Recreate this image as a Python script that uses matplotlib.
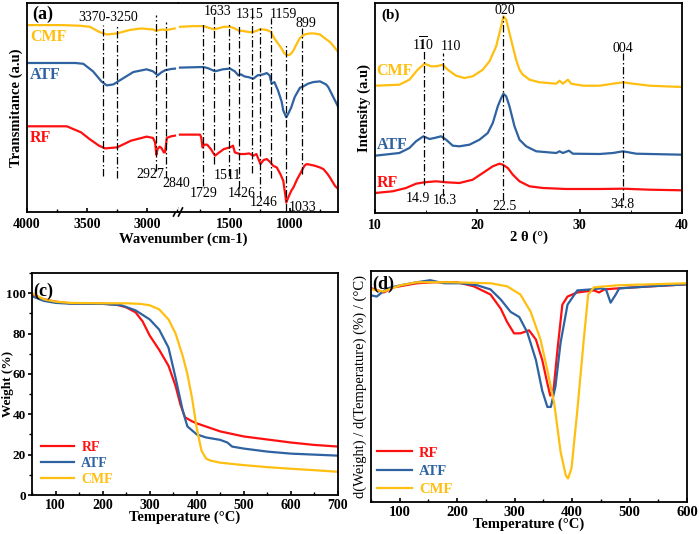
import matplotlib
matplotlib.use('Agg')
import matplotlib.pyplot as plt
from matplotlib.lines import Line2D
from matplotlib.ticker import MultipleLocator, FixedLocator, NullLocator

plt.rcParams['font.family'] = ['Liberation Serif', 'DejaVu Serif']
plt.rcParams['font.weight'] = 'bold'
plt.rcParams['axes.labelweight'] = 'bold'
plt.rcParams['mathtext.fontset'] = 'stix'
plt.rcParams['axes.linewidth'] = 1.3

C_RF = '#ff1010'
C_ATF = '#2e62a0'
C_CMF = '#ffbf10'

# ---------------- (a) FTIR ----------------
ftir_cmf_w = [4000, 3700, 3550, 3475, 3400, 3336, 3250, 3150, 3050, 2990, 2950, 2927, 2900, 2870, 2840, 2800, 2770,
              1917, 1800, 1720, 1660, 1633, 1600, 1550, 1500, 1460, 1426, 1400, 1350, 1315, 1280, 1250, 1222, 1190,
              1160, 1130, 1100, 1070, 1050, 1033, 1010, 990, 970, 950, 920, 899, 870, 833, 800, 750, 700, 667, 630, 600]
ftir_cmf_y = [186, 186, 185.3, 184.3, 179.3, 176.7, 177.7, 181, 182.7, 182, 181.7, 180.3, 181, 181.7, 181, 182, 182.7,
              184.3, 185, 185, 182.7, 181.7, 182.7, 184.3, 184.3, 182.7, 180.3, 180.3, 179.3, 178.7, 180.3, 181.7, 181.7, 181,
              179.3, 172.7, 167.7, 162.7, 158.3, 156.7, 156, 157.7, 161, 166, 172.7, 175, 177, 177.7, 177.7, 176.7, 172, 169.3, 164, 159.3]

ftir_atf_w = [4000, 3600, 3531, 3450, 3380, 3336, 3280, 3200, 3114, 3003, 2950, 2911, 2880, 2850, 2800, 2767,
              1917, 1722, 1680, 1625, 1560, 1500, 1460, 1431, 1410, 1380, 1340, 1306, 1270, 1222, 1194, 1170, 1153,
              1130, 1100, 1070, 1056, 1031, 1015, 990, 961, 930, 917, 889, 850, 806, 750, 700, 681, 639, 597]
ftir_atf_y = [148.3, 148.3, 147.5, 140, 130, 126, 127, 133, 139.3, 142, 140, 136, 139, 141, 142.3, 142.7,
              143.7, 144.3, 143, 140, 142, 142.7, 140, 136, 137, 135, 134, 132.7, 136, 137, 138.3, 136, 127.7,
              129.3, 121, 110, 101, 94.3, 97.7, 104, 114.3, 121, 123.7, 125, 127.7, 129.3, 130, 127, 124.3, 114.3, 104.3]

ftir_rf_w = [4000, 3669, 3550, 3480, 3400, 3350, 3250, 3133, 3003, 2950, 2933, 2922, 2912, 2895, 2880, 2860, 2850, 2835, 2800, 2767,
             1917, 1750, 1740, 1729, 1715, 1690, 1660, 1625, 1590, 1550, 1500, 1475, 1460, 1417, 1375, 1340, 1306, 1280,
             1246, 1220, 1194, 1170, 1140, 1110, 1080, 1056, 1040, 1031, 1015, 990, 972, 940, 917, 880, 861, 830, 792,
             750, 722, 690, 667, 625, 597]
ftir_rf_y = [85.3, 85.3, 79.3, 72.7, 66, 63.3, 64.3, 71, 75, 73.7, 69.3, 57, 62.7, 65, 63.7, 59.3, 59.3, 73.7, 75.3, 76,
             77, 77, 74.3, 64.3, 67, 67, 62.7, 56, 59.3, 62.7, 64.3, 66, 59.3, 57.7, 57.7, 58.3, 56, 57.7,
             47.7, 51.7, 52.7, 50.3, 46, 44.3, 37.7, 31, 17.7, 9.3, 14.3, 21, 24.3, 32.7, 37.7, 46, 47.7, 47, 46,
             44.3, 42.7, 38.3, 34.3, 26, 22.7]

ftir_peaks = [3370, 3250, 2927, 2840, 1729, 1633, 1511, 1426, 1315, 1246, 1159, 1033, 899]
ftir_peak_top = [186, 186, 196, 189, 189, 198, 188, 186, 196, 183, 193, 168, 183]
ftir_peak_bot = [36, 34, 41, 34, 26, 48, 36, 24, 39, 14, 34, 1, 38]
ftir_label_text = ['3370-3250', '2927', '2840', '1729', '1633', '1511', '1426', '1315', '1246', '1159', '1033', '899']
ftir_label_w = [3325, 2975, 2753, 1717, 1606, 1525, 1403, 1336, 1219, 1058, 898, 869]
ftir_label_y = [194, 37, 28, 18, 200, 36, 18, 197, 9, 197, 4, 188]

# ---------------- (b) XRD ----------------
xrd_cmf_x = [10.0, 12.38, 13.36, 14.17, 14.83, 15.48, 15.97, 16.62, 17.11, 17.92, 18.74, 19.55, 20.53, 21.19, 21.84,
             22.33, 22.55, 22.82, 23.3, 23.79, 24.12, 24.45, 25.1, 26.08, 27.71, 28.03, 28.36, 28.85, 29.17, 30.32,
             31.95, 33.25, 34.23, 35.21, 36.84, 40.0]
xrd_cmf_y = [127.3, 128.3, 133.3, 143.3, 149.3, 146.7, 146.7, 148.3, 143.3, 137.3, 135, 136.7, 143.3, 151.7, 166.7,
             186.7, 196.7, 193.3, 173.3, 153.3, 143.3, 138.3, 133.3, 130.7, 129.3, 132.3, 129.3, 133.3, 129.3, 127.3,
             127.3, 129.3, 130.7, 129.3, 127.3, 126]
xrd_atf_x = [10.0, 12.38, 13.36, 14.01, 14.73, 15.32, 15.8, 16.46, 16.95, 17.6, 18.25, 19.23, 20.21, 21.02, 21.51,
             22.0, 22.33, 22.55, 22.82, 23.14, 23.63, 24.12, 24.77, 25.75, 27.71, 28.03, 28.36, 28.95, 29.34, 31.95,
             33.25, 34.23, 35.53, 40.0]
xrd_atf_y = [57.3, 60, 65, 71.7, 76.7, 74, 75, 76.7, 73.3, 67.3, 66.7, 68.3, 73.3, 80, 90,
             106.7, 115, 119.3, 116.7, 106.7, 86.7, 73.3, 66.7, 61.7, 60, 61.7, 60, 62.3, 59.3, 59,
             60, 61.7, 59.3, 58.3]
xrd_rf_x = [10.0, 11.73, 13.03, 14.01, 14.83, 15.97, 16.95, 18.25, 19.55, 20.53, 21.51, 22.16, 22.49, 22.98, 23.47,
            24.12, 25.1, 26.4, 28.68, 31.95, 34.23, 36.84, 40.0]
xrd_rf_y = [20, 21.7, 25, 29.3, 30.7, 31.7, 30.7, 30, 33.3, 40, 46.7, 49.3, 48.3, 45, 38.3,
            31.7, 26.7, 25, 24, 24, 24.3, 23.3, 22.7]
xrd_peak_pos = [14.75, 16.6, 22.55, 34.25]
xrd_peak_top = [163, 160, 197, 160]
xrd_peak_bot = [28, 17, 13, 13]
xrd_peak_labels = ['14.9', '16.3', '22.5', '34.8']
xrd_plane_labels = ['1$\\overline{1}$0', '110', '020', '004']

# ---------------- (c) TGA ----------------
tga_t = [50, 75, 100, 130, 200, 230, 250, 270, 285, 300, 320, 340, 355, 365, 375, 390, 400, 450, 500, 550, 600, 650, 700]
tga_rf = [99, 97, 95.8, 95, 94.8, 94.3, 93, 90.5, 86, 79, 72, 64, 54, 45, 38.5, 36.5, 35.5, 31.5, 29, 27.5, 26, 24.8, 24]
tga_atf_t = [50, 75, 100, 130, 200, 240, 270, 300, 320, 340, 355, 370, 380, 400, 420, 450, 465, 475, 500, 550, 600, 650, 700]
tga_atf = [98.5, 96.2, 95.2, 94.8, 94.7, 94, 91.5, 87, 82, 73, 58, 42, 34, 30, 28.5, 27.3, 26, 24, 23, 21.5, 20.5, 20, 19.5]
tga_cmf_t = [50, 75, 100, 130, 200, 250, 280, 300, 320, 340, 355, 370, 380, 390, 400, 410, 420, 430, 450, 500, 550, 600, 650, 700]
tga_cmf = [100, 97, 95.8, 95.2, 95, 95, 94.7, 94, 92, 87, 80, 69, 60, 48, 33, 22, 18, 17, 16, 14.8, 13.8, 13, 12.3, 11.5]

# ---------------- (d) DTG ----------------
dtg_rf_t = [51.7, 72, 89.5, 130, 159, 200, 229, 258, 276, 287, 299, 310, 325, 337, 348, 357, 362, 368, 374, 383, 392,
            409, 438, 447, 456, 479, 537, 600]
dtg_rf = [209, 205, 210, 214, 215, 215, 211, 203, 189, 176, 165, 165, 168, 159, 139, 116, 104, 111, 146, 193, 201,
          205, 207, 205, 208, 209, 211, 213]
dtg_atf_t = [51.7, 60, 78, 101, 130, 153, 177, 206, 235, 258, 276, 293, 308, 322, 337, 348, 357, 363, 371, 380, 392,
             409, 433, 450, 459, 467, 476, 482, 537, 600]
dtg_atf = [202, 201, 209, 212, 215, 217, 214, 214, 212, 208, 198, 186, 181, 166, 139, 109, 93, 93, 113, 156, 193,
           207, 208, 209, 208, 195, 203, 209, 211, 213]
dtg_cmf_t = [51.7, 72, 101, 130, 188, 258, 287, 310, 328, 345, 357, 369, 380, 389, 393, 399, 409, 421, 428, 438,
             479, 537, 600]
dtg_cmf = [208, 206, 212, 215, 215, 214, 211, 203, 186, 159, 129, 96, 49, 26, 23, 33, 89, 163, 203, 210,
           212, 213, 214]

series_names = ['RF', 'ATF', 'CMF']
colors = [C_RF, C_ATF, C_CMF]

W, H = 699, 534


def rect(l, t, r, b):
    return [l / W, 1 - b / H, (r - l) / W, (b - t) / H]


fig = plt.figure(figsize=(6.99, 5.34), dpi=100)
axL = fig.add_axes(rect(27, 3, 177.5, 212))
axR = fig.add_axes(rect(177.5, 3, 338, 212))
axb = fig.add_axes(rect(375, 3, 682, 213))
axc = fig.add_axes(rect(32, 273, 338, 495))
axd = fig.add_axes(rect(371, 271, 687, 502))
axR.set_facecolor('none')
axL.set_zorder(3)

LW = 1.6
DASH = (0, (6, 2, 1.2, 2))

# ---- (a)
ftir = [(ftir_rf_w, ftir_rf_y, C_RF), (ftir_atf_w, ftir_atf_y, C_ATF), (ftir_cmf_w, ftir_cmf_y, C_CMF)]
for ws, ys, c in ftir:
    lw_ = [(w, y) for w, y in zip(ws, ys) if w > 2200]
    rw_ = [(w, y) for w, y in zip(ws, ys) if w < 2200]
    axL.plot([p[0] for p in lw_], [p[1] for p in lw_], color=c, lw=LW)
    axR.plot([p[0] for p in rw_], [p[1] for p in rw_], color=c, lw=LW)
for w, t, b in zip(ftir_peaks, ftir_peak_top, ftir_peak_bot):
    ax = axL if w > 2200 else axR
    ax.plot([w, w], [b, t], color='k', lw=0.9, ls=DASH)
for txt, w, y in zip(ftir_label_text, ftir_label_w, ftir_label_y):
    ax = axL if w > 2200 else axR
    ax.text(w, y, txt, ha='center', va='center', fontsize=10, fontweight='normal', clip_on=False, zorder=5)

axL.set_xlim(4000, 2746)
axR.set_xlim(1937.5, 600)
for ax in (axL, axR):
    ax.set_ylim(0, 208)
    ax.yaxis.set_major_locator(NullLocator())
    ax.tick_params(axis='x', direction='in', length=3, width=1.2, labelsize=10, pad=4)
    ax.tick_params(axis='x', which='minor', direction='in', length=2, width=1)
axL.xaxis.set_major_locator(FixedLocator([4000, 3500, 3000]))
axL.xaxis.set_minor_locator(FixedLocator([3750, 3250, 2750]))
axR.xaxis.set_major_locator(FixedLocator([1500, 1000]))
axR.xaxis.set_minor_locator(FixedLocator([1750, 1250, 750]))
axL.spines['right'].set_visible(False)
axR.spines['left'].set_visible(False)
axL.set_ylabel('Transmitance (a.u)', fontsize=10.5, labelpad=3)
axL.text(3960, 197, '(a)', fontsize=13, va='center', ha='left')
for name, c, y in zip(series_names, colors, [74, 136, 174]):
    axL.text(3975, y, name, color=c, fontsize=11.5, va='center', ha='left')
fig.text(183 / W, 1 - 239 / H, 'Wavenumber (cm-1)', ha='center', va='center', fontsize=10.5, fontweight='bold')
# break marks
for x0 in (173.5, 178.5):
    fig.add_artist(Line2D([x0 / W, (x0 + 4) / W], [1 - 216 / H, 1 - 208 / H], color='k', lw=1.2))

# ---- (b)
axb.plot(xrd_rf_x, xrd_rf_y, color=C_RF, lw=LW)
axb.plot(xrd_atf_x, xrd_atf_y, color=C_ATF, lw=LW)
axb.plot(xrd_cmf_x, xrd_cmf_y, color=C_CMF, lw=LW)
for x, t, b in zip(xrd_peak_pos, xrd_peak_top, xrd_peak_bot):
    axb.plot([x, x], [b, t], color='k', lw=0.9, ls=DASH)
xrd_bot_label_pos = [(14.2, 14), (16.8, 12), (22.65, 6), (34.2, 8)]
xrd_top_label_pos = [(14.67, 169), (17.4, 166), (22.65, 202), (34.2, 164)]
for txt, (x, y) in zip(xrd_peak_labels, xrd_bot_label_pos):
    axb.text(x, y, txt, ha='center', va='center', fontsize=10, fontweight='normal', clip_on=False)
for txt, (x, y) in zip(xrd_plane_labels, xrd_top_label_pos):
    axb.text(x, y, txt, ha='center', va='center', fontsize=10, fontweight='normal', clip_on=False)
for name, c, y in zip(series_names, colors, [30, 68, 142]):
    axb.text(10.15, y, name, color=c, fontsize=11.5, va='center', ha='left')
axb.text(10.6, 198, '(b)', fontsize=11, va='center', ha='left')
axb.set_xlim(10, 40)
axb.set_ylim(0, 210)
axb.yaxis.set_major_locator(NullLocator())
axb.xaxis.set_major_locator(MultipleLocator(10))
axb.xaxis.set_minor_locator(MultipleLocator(5))
axb.tick_params(axis='x', direction='in', length=3, width=1.2, labelsize=10, pad=4)
axb.tick_params(axis='x', which='minor', direction='in', length=2)
axb.set_ylabel('Intensity (a.u)', fontsize=10.5, labelpad=3)
axb.set_xlabel('2 θ (°)', fontsize=10.5, labelpad=-1)

# ---- (c)
axc.plot(tga_t, tga_rf, color=C_RF, lw=LW, label='RF')
axc.plot(tga_atf_t, tga_atf, color=C_ATF, lw=LW, label='ATF')
axc.plot(tga_cmf_t, tga_cmf, color=C_CMF, lw=LW, label='CMF')
axc.set_xlim(50, 700)
axc.set_ylim(0, 110)
axc.xaxis.set_major_locator(MultipleLocator(100))
axc.xaxis.set_minor_locator(MultipleLocator(50))
axc.yaxis.set_major_locator(MultipleLocator(20))
axc.yaxis.set_minor_locator(MultipleLocator(10))
axc.tick_params(axis='x', which='both', direction='in', labelsize=10, pad=3)
axc.tick_params(axis='y', which='both', direction='out', labelsize=9.5, pad=1.5)
axc.tick_params(which='major', length=3, width=1.2)
axc.tick_params(which='minor', length=2, width=1)
axc.set_xlabel('Temperature (°C)', fontsize=10.5, labelpad=-1)
axc.set_ylabel('Weight (%)', fontsize=9.5, va='center')
axc.yaxis.set_label_coords(-(32 - 8) / 306, 0.5)
axc.text(52, 101, '(c)', fontsize=13, va='center', ha='left')
axc.legend(loc='lower left', frameon=False, prop={'weight': 'bold', 'size': 10}, handlelength=2.4,
           labelspacing=0.22, borderaxespad=0.25, handletextpad=0.5, labelcolor='linecolor')

# ---- (d)
axd.plot(dtg_rf_t, dtg_rf, color=C_RF, lw=LW, label='RF')
axd.plot(dtg_atf_t, dtg_atf, color=C_ATF, lw=LW, label='ATF')
axd.plot(dtg_cmf_t, dtg_cmf, color=C_CMF, lw=LW, label='CMF')
axd.set_xlim(50, 600)
axd.set_ylim(0, 226)
axd.yaxis.set_major_locator(NullLocator())
axd.xaxis.set_major_locator(MultipleLocator(100))
axd.xaxis.set_minor_locator(MultipleLocator(50))
axd.tick_params(axis='x', which='both', direction='in', labelsize=10.5, pad=3)
axd.tick_params(which='major', length=3, width=1.2)
axd.tick_params(which='minor', length=2, width=1)
axd.set_xlabel('Temperature (°C)', fontsize=10.5, labelpad=-1)
axd.set_ylabel('d(Weight) / d(Temperature) (%) / (°C)', fontsize=10.5, fontweight='normal', labelpad=3)
axd.text(52, 213, '(d)', fontsize=13, va='center', ha='left')
axd.legend(loc='lower left', frameon=False, prop={'weight': 'bold', 'size': 10.5}, handlelength=2.4,
           labelspacing=0.35, borderaxespad=0.0, handletextpad=0.5, labelcolor='linecolor')

fig.savefig('out.png', dpi=100)
